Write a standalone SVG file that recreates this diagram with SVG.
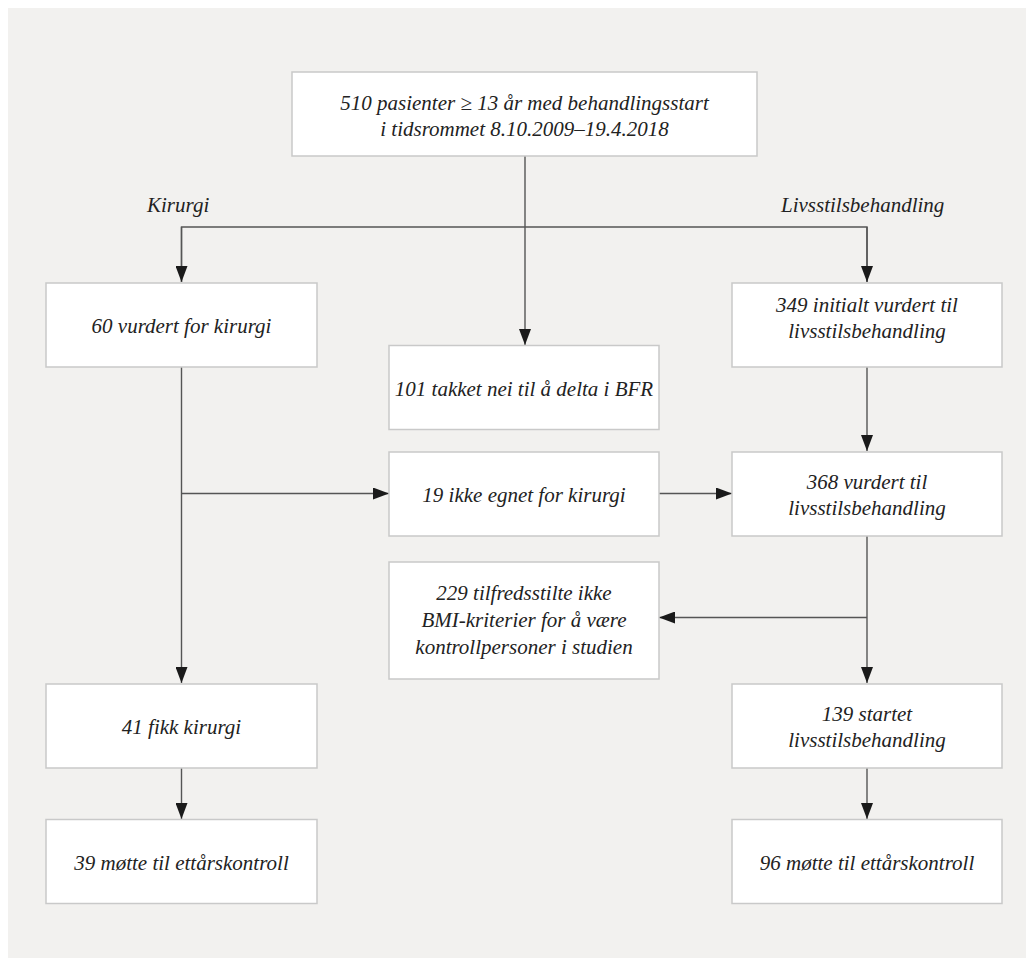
<svg xmlns="http://www.w3.org/2000/svg" width="1026" height="958" viewBox="0 0 1026 958">
  <style>
    .box { fill: #ffffff; stroke: #c9c9c9; stroke-width: 1.5; }
    .t { font-family: "Liberation Serif", "DejaVu Serif", serif; font-style: italic; font-size: 21px; fill: #222222; text-anchor: middle; }
    .lbl { font-family: "Liberation Serif", "DejaVu Serif", serif; font-style: italic; font-size: 21px; fill: #222222; }
    .conn { fill: none; stroke: #555555; stroke-width: 1.4; }
  </style>
  <defs>
    <marker id="arr" viewBox="0 0 16 12" refX="16" refY="6" markerWidth="16" markerHeight="12" markerUnits="userSpaceOnUse" orient="auto">
      <path d="M0,0 L16,6 L0,12 Z" fill="#1a1a1a"/>
    </marker>
  </defs>
  <rect x="0" y="0" width="1026" height="958" fill="#ffffff"/>
  <rect x="8" y="8" width="1018" height="950" fill="#f2f1ef"/>

  <g id="connectors">
    <path class="conn" d="M525,156 V345" marker-end="url(#arr)"/>
    <path class="conn" d="M181.5,282 V227 H867 V282"/>
    <path class="conn" d="M181.5,227 V282" marker-end="url(#arr)"/>
    <path class="conn" d="M867,227 V282" marker-end="url(#arr)"/>
    <path class="conn" d="M181.5,367 V683" marker-end="url(#arr)"/>
    <path class="conn" d="M181.5,493.5 H389" marker-end="url(#arr)"/>
    <path class="conn" d="M659,493.5 H732" marker-end="url(#arr)"/>
    <path class="conn" d="M867,367 V451" marker-end="url(#arr)"/>
    <path class="conn" d="M867,536 V683" marker-end="url(#arr)"/>
    <path class="conn" d="M867,617.5 H659" marker-end="url(#arr)"/>
    <path class="conn" d="M181.5,768 V819" marker-end="url(#arr)"/>
    <path class="conn" d="M867,768 V819" marker-end="url(#arr)"/>
  </g>

  <g id="label-kirurgi">
    <text class="lbl" x="147" y="212">Kirurgi</text>
  </g>
  <g id="label-livsstil">
    <text class="lbl" x="781" y="212">Livsstilsbehandling</text>
  </g>

  <g id="n-start">
    <rect class="box" x="292" y="72" width="465" height="84"/>
    <text class="t" x="524.5" y="109.5">510 pasienter ≥ 13 år med behandlingsstart</text>
    <text class="t" x="524.5" y="136">i tidsrommet 8.10.2009–19.4.2018</text>
  </g>
  <g id="n-kir60">
    <rect class="box" x="46" y="283" width="271" height="84"/>
    <text class="t" x="181.5" y="333">60 vurdert for kirurgi</text>
  </g>
  <g id="n-takket101">
    <rect class="box" x="389" y="345.5" width="270" height="84"/>
    <text class="t" x="524" y="395.5">101 takket nei til å delta i BFR</text>
  </g>
  <g id="n-liv349">
    <rect class="box" x="732" y="283" width="270" height="84"/>
    <text class="t" x="867" y="312">349 initialt vurdert til</text>
    <text class="t" x="867" y="338">livsstilsbehandling</text>
  </g>
  <g id="n-ikke19">
    <rect class="box" x="389" y="452" width="270" height="84"/>
    <text class="t" x="524" y="502">19 ikke egnet for kirurgi</text>
  </g>
  <g id="n-liv368">
    <rect class="box" x="732" y="452" width="270" height="84"/>
    <text class="t" x="867" y="489">368 vurdert til</text>
    <text class="t" x="867" y="515">livsstilsbehandling</text>
  </g>
  <g id="n-bmi229">
    <rect class="box" x="389" y="562" width="270" height="117"/>
    <text class="t" x="524" y="600">229 tilfredsstilte ikke</text>
    <text class="t" x="524" y="627">BMI-kriterier for å være</text>
    <text class="t" x="524" y="654">kontrollpersoner i studien</text>
  </g>
  <g id="n-kir41">
    <rect class="box" x="46" y="684" width="271" height="84"/>
    <text class="t" x="181.5" y="734">41 fikk kirurgi</text>
  </g>
  <g id="n-liv139">
    <rect class="box" x="732" y="684" width="270" height="84"/>
    <text class="t" x="867" y="721">139 startet</text>
    <text class="t" x="867" y="747">livsstilsbehandling</text>
  </g>
  <g id="n-kir39">
    <rect class="box" x="46" y="819.5" width="271" height="84"/>
    <text class="t" x="181.5" y="869.5">39 møtte til ettårskontroll</text>
  </g>
  <g id="n-liv96">
    <rect class="box" x="732" y="819.5" width="270" height="84"/>
    <text class="t" x="867" y="869.5">96 møtte til ettårskontroll</text>
  </g>
</svg>
